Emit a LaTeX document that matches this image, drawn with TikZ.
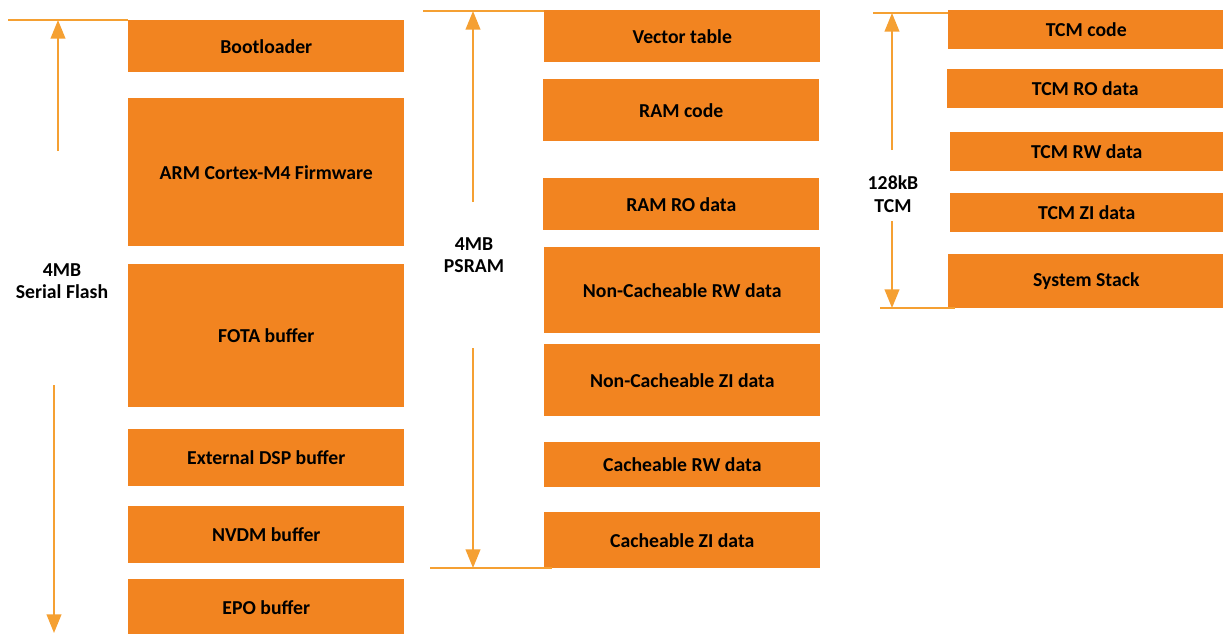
\documentclass[tikz,border=0pt]{standalone}
\usepackage{fontspec}
\setmainfont{Carlito}
\usetikzlibrary{arrows.meta}
\definecolor{blockorange}{RGB}{242,132,32}
\definecolor{lineorange}{RGB}{245,160,50}
\newcommand{\pxu}{0.75pt}

\begin{document}
\begin{tikzpicture}[x=0.75pt,y=-0.75pt,
    memblock/.style={fill=blockorange,anchor=north west,inner sep=0pt,minimum width=276*\pxu,font=\bfseries\fontsize{14.8}{17}\selectfont},
    boundline/.style={draw=lineorange,line width=1.4pt},
    sizearrow/.style={draw=lineorange,line width=1.5pt,-{Triangle[length=14pt,width=11pt]}},
    sizelabel/.style={align=center,font=\bfseries\fontsize{14.8}{17}\selectfont}]
  \useasboundingbox (0,0) rectangle (1223,633);

  % Serial flash
  \node[memblock,minimum height=52*\pxu] (boot) at (128,20) {Bootloader};
  \node[memblock,minimum height=148*\pxu] (fw) at (128,98) {ARM Cortex-M4 Firmware};
  \node[memblock,minimum height=143*\pxu] (fota) at (128,264) {FOTA buffer};
  \node[memblock,minimum height=57*\pxu] (dsp) at (128,429) {External DSP buffer};
  \node[memblock,minimum height=57*\pxu] (nvdm) at (128,506) {NVDM buffer};
  \node[memblock,minimum height=56*\pxu] (epo) at (128,579) {EPO buffer};
  \coordinate (flashL) at (8,20);
  \coordinate (flashtop) at (58,20);
  \coordinate (flashup) at (58,151);
  \coordinate (flashdown) at (54,385);
  \coordinate (flashbot) at (54,633);
  \draw[boundline] (flashL) -- (boot.north west);
  \draw[sizearrow] (flashup) -- (flashtop);
  \draw[sizearrow] (flashdown) -- (flashbot);
  \node[sizelabel] (flashsize) at (62,281) {4MB\\Serial Flash};

  % PSRAM
  \node[memblock,minimum height=52*\pxu] (vec) at (544,10) {Vector table};
  \node[memblock,minimum height=62*\pxu] (ramcode) at (543,79) {RAM code};
  \node[memblock,minimum height=52*\pxu] (ramro) at (543,178) {RAM RO data};
  \node[memblock,minimum height=86*\pxu] (ncrw) at (544,247) {Non-Cacheable RW data};
  \node[memblock,minimum height=72*\pxu] (nczi) at (544,344) {Non-Cacheable ZI data};
  \node[memblock,minimum height=45*\pxu] (crw) at (544,442) {Cacheable RW data};
  \node[memblock,minimum height=56*\pxu] (czi) at (544,512) {Cacheable ZI data};
  \coordinate (psramL) at (423,11);
  \coordinate (psramR) at (544,11);
  \coordinate (psramBL) at (430,568);
  \coordinate (psramBR) at (552,568);
  \coordinate (psramtop) at (473,11);
  \coordinate (psramup) at (473,202);
  \coordinate (psramdown) at (473,348);
  \coordinate (psrambot) at (473,568);
  \draw[boundline] (psramL) -- (psramR);
  \draw[boundline] (psramBL) -- (psramBR);
  \draw[sizearrow] (psramup) -- (psramtop);
  \draw[sizearrow] (psramdown) -- (psrambot);
  \node[sizelabel] (psramsize) at (474,255) {4MB\\PSRAM};

  % TCM
  \node[memblock,minimum height=39*\pxu] (tcmcode) at (948,10) {TCM code};
  \node[memblock,minimum height=39*\pxu] (tcmro) at (947,69) {TCM RO data};
  \node[memblock,minimum height=39*\pxu,minimum width=273*\pxu] (tcmrw) at (950,132) {TCM RW data};
  \node[memblock,minimum height=39*\pxu,minimum width=273*\pxu] (tcmzi) at (950,193) {TCM ZI data};
  \node[memblock,minimum height=54*\pxu] (stack) at (948,254) {System Stack};
  \coordinate (tcmL) at (873,13);
  \coordinate (tcmR) at (948,13);
  \coordinate (tcmBL) at (880,308);
  \coordinate (tcmBR) at (955,308);
  \coordinate (tcmtop) at (892,13);
  \coordinate (tcmup) at (892,150);
  \coordinate (tcmdown) at (892,221);
  \coordinate (tcmbot) at (892,308);
  \draw[boundline] (tcmL) -- (tcmR);
  \draw[boundline] (tcmBL) -- (tcmBR);
  \draw[sizearrow] (tcmup) -- (tcmtop);
  \draw[sizearrow] (tcmdown) -- (tcmbot);
  \node[sizelabel] (tcmsize) at (893,194) {128kB\\TCM};
\end{tikzpicture}
\end{document}
